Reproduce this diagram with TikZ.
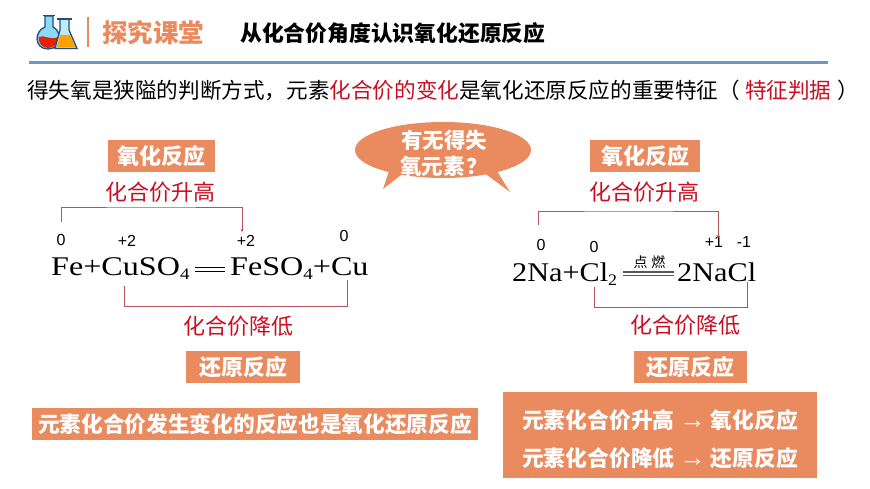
\documentclass[tikz,border=0pt]{standalone}
\usepackage{fontspec}
\setmainfont{Noto Sans CJK SC}
\newfontfamily\eqfont[FakeStretch=1.19]{Liberation Serif}
\newfontfamily\eqnarrow[FakeStretch=1.12]{Liberation Serif}
\newfontfamily\numfont{Liberation Sans}
\newcommand{\lowsub}[1]{\raisebox{-4pt}{\fontsize{16}{16}\selectfont #1}}
\newcommand{\goesto}{{\numfont\fontsize{26}{24}\selectfont →}}
\usetikzlibrary{arrows.meta}
\definecolor{salmon}{HTML}{E98A5F}
\definecolor{headblue}{HTML}{6A98C4}
\definecolor{keyred}{HTML}{C80F22}
\definecolor{linkred}{HTML}{B5525C}
\definecolor{flaskline}{HTML}{1F4E79}
\tikzset{
    tag/.style={fill=salmon,text=white,font=\fontsize{22}{24}\selectfont\bfseries,inner sep=0pt,minimum height=32pt},
    change/.style={text=keyred,font=\fontsize{22}{24}\selectfont,inner sep=0pt},
    num/.style={font=\numfont\fontsize{16}{18}\selectfont,inner sep=0pt},
    eq/.style={font=\eqfont\fontsize{27}{28}\selectfont,inner sep=0pt,anchor=base west},
    eqright/.style={font=\eqnarrow\fontsize{27}{28}\selectfont,inner sep=0pt,anchor=base west},
    rowtext/.style={text=white,font=\fontsize{21.8}{24}\selectfont\bfseries,inner sep=0pt},
    link/.style={linkred,line width=0.8pt}
}
\begin{document}
\begin{tikzpicture}[x=1pt,y=-1pt]
    \useasboundingbox (0,0) rectangle (870,489);
    % flasks
    \draw[fill=cyan!45!white,draw=flaskline,line width=1.3pt] (45,16) -- (45,27) .. controls (34,31) and (34,49) .. (48,49) .. controls (62,49) and (62,31) .. (53,27) -- (53,16) -- cycle;
    \fill[red!70!orange!90!black] (38.5,37) .. controls (44,34) and (50,41) .. (58,37) .. controls (58,44) and (54,48) .. (48,48) .. controls (42,48) and (38.5,43) .. (38.5,37) -- cycle;
    \draw[flaskline,line width=1.8pt] (43,15.5) -- (55,15.5);
    \draw[fill=cyan!25!white,draw=flaskline,line width=1.3pt] (60,19) -- (60,30) -- (55,48.5) -- (77,48.5) -- (69,30) -- (69,19) -- cycle;
    \fill[orange!75!yellow] (60,35) -- (70,35) -- (75.5,47.5) -- (57,47.5) -- cycle;
    \draw[flaskline,line width=1.8pt] (57,19) -- (72,19);
    % header
    \draw[salmon,line width=1.4pt] (88,17) -- (88,47);
    \node (brand) [anchor=west,text=salmon,font=\fontsize{25.5}{28}\selectfont\bfseries,inner sep=0pt] at (102,33) {探究课堂};
    \node (title) [anchor=west,font=\fontsize{21.8}{24}\selectfont\bfseries,inner sep=0pt] at (240,33) {从化合价角度认识氧化还原反应};
    \draw[headblue,line width=2.4pt] (29,62.5) -- (828,62.5);
    \node (lead) [anchor=west,font=\fontsize{21.6}{24}\selectfont,inner sep=0pt] at (27,90) {得失氧是狭隘的判断方式，元素\textcolor{keyred}{化合价的变化}是氧化还原反应的重要特征（\hspace{5pt}\textcolor{keyred}{特征判据}\hspace{6pt}）};
    % callout
    \fill[salmon] (383,189) -- (390,168) -- (405,172) -- cycle;
    \fill[salmon] (510,192) -- (495,168) -- (483,172) -- cycle;
    \fill[salmon] (443,150) ellipse (88 and 28);
    \node (ask) [text=white,inner sep=0pt,align=center,font=\fontsize{21.5}{26}\selectfont\bfseries] at (444,153) {有无得失\\氧元素\hspace{2pt}？};
    % left equation
    \node (oxa) [tag,minimum width=107pt] at (161.5,156) {氧化反应};
    \node (upa) [change] at (160.5,192) {化合价升高};
    \node (fe0) [num] at (61,240) {0};
    \node (cu2) [num] at (127,241) {+2};
    \node (fe2) [num] at (246,241) {+2};
    \node (cu0) [num] at (344,236) {0};
    \node (eqa) [eq] at (51,275) {Fe+CuSO\lowsub{4}};
    \draw[line width=0.9pt] (195,267) -- (225,267) (195,271) -- (225,271);
    \node (eqb) [eq] at (230,275) {FeSO\lowsub{4}+Cu};
    \coordinate (ua1) at (61,222);
    \coordinate (ua2) at (242,232);
    \draw[link,-{Stealth[length=3pt,width=3pt]}] (ua1) |- (150,207) -| (ua2);
    \coordinate (da1) at (124,286);
    \coordinate (da2) at (347,280);
    \draw[link] (da1) |- (347,306) -- (da2);
    \node (dna) [change] at (238.5,326) {化合价降低};
    \node (rda) [tag,minimum width=114pt] at (243,367) {还原反应};
    \node (sum1) [tag,minimum width=446pt,font=\fontsize{21.7}{24}\selectfont\bfseries] at (255,424) {元素化合价发生变化的反应也是氧化还原反应};
    % right equation
    \node (oxb) [tag,minimum width=110pt] at (645,156) {氧化反应};
    \node (upb) [change] at (644,192) {化合价升高};
    \node (na0) [num] at (541,245) {0};
    \node (cl0) [num] at (594,247) {0};
    \node (na1) [num] at (714,242) {+1};
    \node (clm) [num] at (744,242) {-1};
    \node (eqc) [eqright] at (512,281) {2Na+Cl\lowsub{2}};
    \node (fire) [font=\fontsize{14}{14}\selectfont,inner sep=0pt] at (649.5,262) {点\hspace{4pt}燃};
    \draw[black!65,line width=1.1pt] (623,272) -- (674,272) (623,275.5) -- (674,275.5);
    \node (eqd) [eqright] at (677,281) {2NaCl};
    \coordinate (ub1) at (538,225);
    \coordinate (ub2) at (718,238);
    \draw[link,-{Stealth[length=3pt,width=3pt]}] (ub1) |- (630,211) -| (ub2);
    \coordinate (db1) at (594,287);
    \coordinate (db2) at (747,282);
    \draw[link] (db1) |- (747,307.5) -- (db2);
    \node (dnb) [change] at (685,325) {化合价降低};
    \node (rdb) [tag,minimum width=113pt] at (690,367) {还原反应};
    \node (sum2) [tag,minimum width=314pt,minimum height=86pt] at (660,435) {};
    \node (rowa) [rowtext] at (660,420) {元素化合价升高 \goesto{} 氧化反应};
    \node (rowb) [rowtext] at (660,458) {元素化合价降低 \goesto{} 还原反应};
\end{tikzpicture}
\end{document}
